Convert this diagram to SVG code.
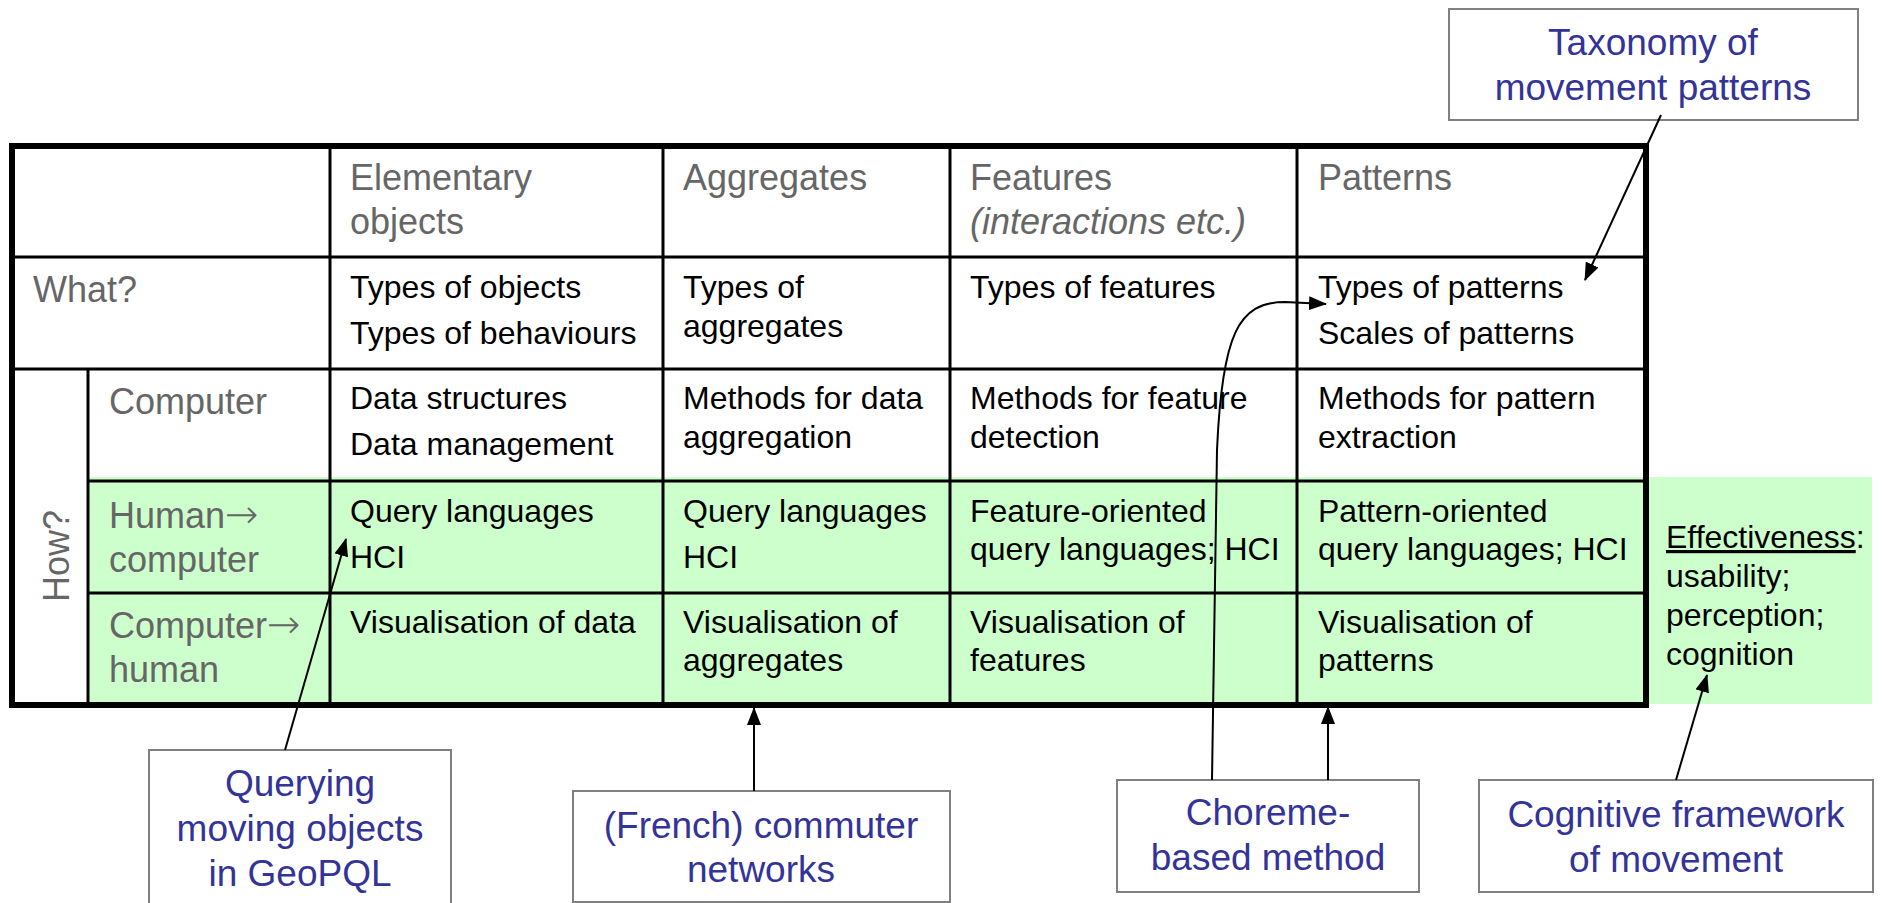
<svg xmlns="http://www.w3.org/2000/svg" width="1883" height="903" viewBox="0 0 1883 903">
<style>
text{font-family:"Liberation Sans",Arial,sans-serif}
.hd{font-size:36px;fill:#666666}
.bd{font-size:32px;fill:#000000}
.co{font-size:37px;fill:#333399;text-anchor:middle}
.ar{font-family:"DejaVu Sans",sans-serif;font-size:40px;font-weight:200}
.box{fill:#ffffff;stroke:#808080;stroke-width:2}
.grid{stroke:#000000;stroke-width:3;fill:none}
.conn{stroke:#000000;stroke-width:2;fill:none}
</style>
<defs>
<marker id="ah" markerUnits="userSpaceOnUse" markerWidth="18" markerHeight="14" refX="17" refY="7" orient="auto">
<path d="M0,0 L18,7 L0,14 Z" fill="#000000"/>
</marker>
</defs>
<rect width="1883" height="903" fill="#ffffff"/>
<g id="table">
<rect x="88" y="477" width="1784" height="227" fill="#ccffcc"/>
<g class="grid">
<line x1="12" y1="257" x2="1646" y2="257"/>
<line x1="12" y1="369" x2="1646" y2="369"/>
<line x1="88" y1="481" x2="1646" y2="481"/>
<line x1="88" y1="593" x2="1646" y2="593"/>
<line x1="88" y1="369" x2="88" y2="705"/>
<line x1="330" y1="146" x2="330" y2="705"/>
<line x1="663" y1="146" x2="663" y2="705"/>
<line x1="950" y1="146" x2="950" y2="705"/>
<line x1="1297" y1="146" x2="1297" y2="705"/>
</g>
<rect x="12" y="146" width="1634" height="559" fill="none" stroke="#000000" stroke-width="6"/>
<text class="hd" x="350" y="190">Elementary</text>
<text class="hd" x="350" y="234">objects</text>
<text class="hd" x="683" y="190">Aggregates</text>
<text class="hd" x="970" y="190">Features</text>
<text class="hd" x="970" y="234" font-style="italic">(interactions etc.)</text>
<text class="hd" x="1318" y="190">Patterns</text>
<text class="hd" x="33" y="302">What?</text>
<text class="hd" x="109" y="414">Computer</text>
<text class="hd" x="109" y="528">Human<tspan class="ar">→</tspan></text>
<text class="hd" x="109" y="572">computer</text>
<text class="hd" x="109" y="638">Computer<tspan class="ar">→</tspan></text>
<text class="hd" x="109" y="682">human</text>
<text class="hd" font-size="40" transform="translate(69,602) rotate(-90)">How?</text>
<text class="bd" x="350" y="298">Types of objects</text>
<text class="bd" x="350" y="344">Types of behaviours</text>
<text class="bd" x="683" y="298">Types of</text>
<text class="bd" x="683" y="337">aggregates</text>
<text class="bd" x="970" y="298">Types of features</text>
<text class="bd" x="1318" y="298">Types of patterns</text>
<text class="bd" x="1318" y="344">Scales of patterns</text>
<text class="bd" x="350" y="409">Data structures</text>
<text class="bd" x="350" y="455">Data management</text>
<text class="bd" x="683" y="409">Methods for data</text>
<text class="bd" x="683" y="448">aggregation</text>
<text class="bd" x="970" y="409">Methods for feature</text>
<text class="bd" x="970" y="448">detection</text>
<text class="bd" x="1318" y="409">Methods for pattern</text>
<text class="bd" x="1318" y="448">extraction</text>
<text class="bd" x="350" y="522">Query languages</text>
<text class="bd" x="350" y="568">HCI</text>
<text class="bd" x="683" y="522">Query languages</text>
<text class="bd" x="683" y="568">HCI</text>
<text class="bd" x="970" y="522">Feature-oriented</text>
<text class="bd" x="970" y="560">query languages; HCI</text>
<text class="bd" x="1318" y="522">Pattern-oriented</text>
<text class="bd" x="1318" y="560">query languages; HCI</text>
<text class="bd" x="350" y="633">Visualisation of data</text>
<text class="bd" x="683" y="633">Visualisation of</text>
<text class="bd" x="683" y="671">aggregates</text>
<text class="bd" x="970" y="633">Visualisation of</text>
<text class="bd" x="970" y="671">features</text>
<text class="bd" x="1318" y="633">Visualisation of</text>
<text class="bd" x="1318" y="671">patterns</text>
</g>
<g id="effectiveness">
<text class="bd" x="1666" y="548"><tspan text-decoration="underline">Effectiveness</tspan>:</text>
<text class="bd" x="1666" y="587">usability;</text>
<text class="bd" x="1666" y="626">perception;</text>
<text class="bd" x="1666" y="665">cognition</text>
</g>
<g id="taxonomy">
<rect class="box" x="1449" y="9" width="409" height="111"/>
<text class="co" x="1653" y="55">Taxonomy of</text>
<text class="co" x="1653" y="100">movement patterns</text>
</g>
<g id="querying">
<rect class="box" x="149" y="750" width="302" height="165"/>
<text class="co" x="300" y="796">Querying</text>
<text class="co" x="300" y="841">moving objects</text>
<text class="co" x="300" y="886">in GeoPQL</text>
</g>
<g id="commuter">
<rect class="box" x="573" y="791" width="377" height="111"/>
<text class="co" x="761" y="838">(French) commuter</text>
<text class="co" x="761" y="882">networks</text>
</g>
<g id="choreme">
<rect class="box" x="1117" y="780" width="302" height="112"/>
<text class="co" x="1268" y="825">Choreme-</text>
<text class="co" x="1268" y="870">based method</text>
</g>
<g id="cognitive">
<rect class="box" x="1479" y="780" width="394" height="112"/>
<text class="co" x="1676" y="827">Cognitive framework</text>
<text class="co" x="1676" y="872">of movement</text>
</g>
<g id="connectors">
<line class="conn" x1="1661" y1="115" x2="1585" y2="280" marker-end="url(#ah)"/>
<line class="conn" x1="285" y1="750" x2="346" y2="539" marker-end="url(#ah)"/>
<line class="conn" x1="754" y1="791" x2="754" y2="708" marker-end="url(#ah)"/>
<line class="conn" x1="1328" y1="780" x2="1328" y2="707" marker-end="url(#ah)"/>
<path class="conn" d="M1212,780 L1217,450 C1222,335 1238,302 1285,302 L1326,304" marker-end="url(#ah)"/>
<line class="conn" x1="1676" y1="780" x2="1707" y2="675" marker-end="url(#ah)"/>
</g>
</svg>
